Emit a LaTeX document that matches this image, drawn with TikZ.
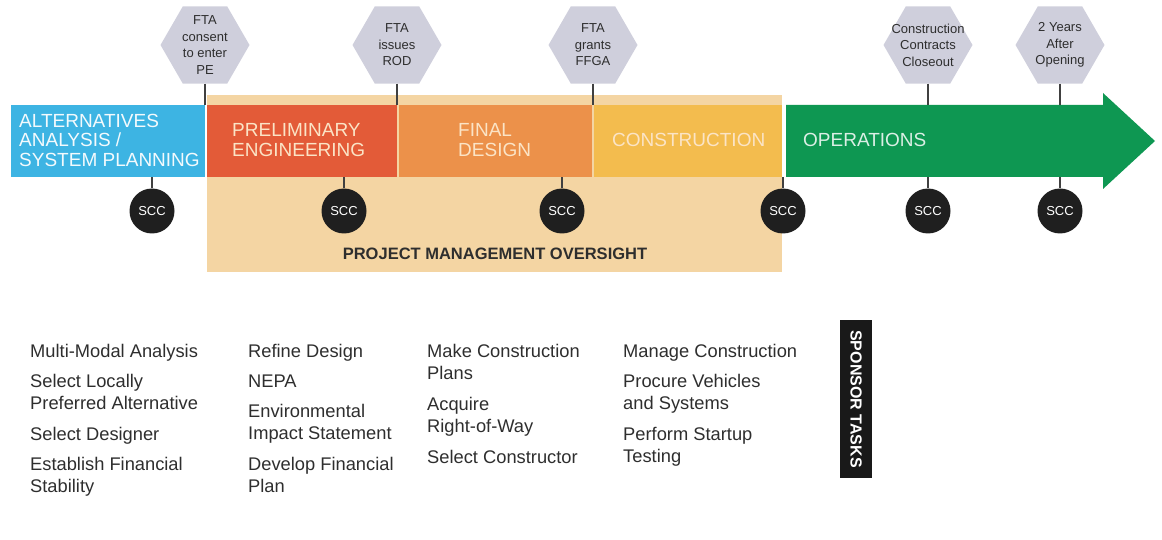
\documentclass[tikz,border=0pt]{standalone}
\usepackage{fontspec}
\setmainfont{Liberation Sans}
\usetikzlibrary{shapes.geometric}
\definecolor{cblue}{HTML}{3DB4E3}
\definecolor{cred}{HTML}{E35B38}
\definecolor{corange}{HTML}{EC914A}
\definecolor{cyellow}{HTML}{F3BC4E}
\definecolor{ctan}{HTML}{F4D5A3}
\definecolor{cgreen}{HTML}{0E9752}
\definecolor{chex}{HTML}{CFCFDC}
\definecolor{ctxt}{HTML}{2E2E2E}
\definecolor{cream}{HTML}{FBE4C6}
\tikzset{
  phase/.style={rectangle, inner sep=0pt, draw=none},
  phasetext/.style={inner sep=0pt, align=left, text=cream, font=\fontsize{19}{19.5}\selectfont},
  hexa/.style={regular polygon, regular polygon sides=6, minimum size=89pt, inner sep=0pt, fill=chex},
  hextext/.style={inner sep=0pt, text=ctxt, align=center, font=\fontsize{13}{16.5}\selectfont},
  scc/.style={circle, fill=black!88, minimum size=45pt, inner sep=0pt, text=white, font=\fontsize{13}{15}\selectfont},
  stem/.style={draw=black!75, line width=1.8pt},
  task/.style={inner sep=0pt, anchor=base west, align=left, text=ctxt, font=\fontsize{18.3}{22}\selectfont},
}
\begin{document}
\begin{tikzpicture}[x=1pt,y=-1pt]
\useasboundingbox (0,0) rectangle (1162,540);
% project management oversight band
\node[phase, fill=ctan, minimum width=575pt, minimum height=177pt, anchor=north west] (pmo) at (207,95) {};
\node[inner sep=0pt, text=ctxt, font=\bfseries\fontsize{16.5}{18}\selectfont] (pmot) at (495,254) {PROJECT MANAGEMENT OVERSIGHT};
% phases
\node[phase, fill=cblue, minimum width=194pt, minimum height=72pt, anchor=north west] (aa) at (11,105) {};
\node[phase, fill=cred, minimum width=190pt, minimum height=72pt, anchor=north west] (pe) at (207,105) {};
\node[phase, fill=corange, minimum width=193pt, minimum height=72pt, anchor=north west] (fd) at (399,105) {};
\node[phase, fill=cyellow, minimum width=188pt, minimum height=72pt, anchor=north west] (co) at (594,105) {};
\fill[cgreen] (786,105) -- (1103,105) -- (1103,93) -- (1155,141) -- (1103,189) -- (1103,177) -- (786,177) -- cycle;
\node[phase, minimum width=317pt, minimum height=72pt, anchor=north west] (op) at (786,105) {};
% phase labels
\node[phasetext, text=white!94!cblue, anchor=west] (aat) at (19,140) {ALTERNATIVES\\ANALYSIS /\\SYSTEM PLANNING};
\node[phasetext, anchor=west] (pet) at (232,140) {PRELIMINARY\\ENGINEERING};
\node[phasetext, anchor=west] (fdt) at (458,140) {FINAL\\DESIGN};
\node[phasetext, anchor=west] (cot) at (612,140) {CONSTRUCTION};
\node[phasetext, text=white!85!cgreen, anchor=west] (opt) at (803,140) {OPERATIONS};
% milestones
\node[hexa] (h1) at (205,45) {};
\node[hexa] (h2) at (397,45) {};
\node[hexa] (h3) at (593,45) {};
\node[hexa] (h4) at (928,45) {};
\node[hexa] (h5) at (1060,45) {};
\node[hextext] (h1t) at (h1) {FTA\\consent\\to enter\\PE};
\node[hextext] (h2t) at (h2) {FTA\\issues\\ROD};
\node[hextext] (h3t) at (h3) {FTA\\grants\\FFGA};
\node[hextext] (h4t) at (h4) {Construction\\Contracts\\Closeout};
\node[hextext] (h5t) at (h5) {2 Years\\After\\Opening};
\draw[stem] (h1.south) -- (h1.south |- pe.north);
\draw[stem] (h2.south) -- (h2.south |- pe.north);
\draw[stem] (h3.south) -- (h3.south |- fd.north);
\draw[stem] (h4.south) -- (h4.south |- op.north);
\draw[stem] (h5.south) -- (h5.south |- op.north);
% SCC reviews
\node[scc] (s1) at (152,211) {SCC};
\node[scc] (s2) at (344,211) {SCC};
\node[scc] (s3) at (562,211) {SCC};
\node[scc] (s4) at (783,211) {SCC};
\node[scc] (s5) at (928,211) {SCC};
\node[scc] (s6) at (1060,211) {SCC};
\draw[stem] (s1.north) -- (s1.north |- aa.south);
\draw[stem] (s2.north) -- (s2.north |- pe.south);
\draw[stem] (s3.north) -- (s3.north |- fd.south);
\draw[stem] (s4.north) -- (s4.north |- co.south);
\draw[stem] (s5.north) -- (s5.north |- op.south);
\draw[stem] (s6.north) -- (s6.north |- op.south);
% sponsor tasks (anchor = baseline of last line)
\node[task] (t11) at (30,357) {Multi-Modal Analysis};
\node[task] (t12) at (30,409) {Select Locally\\Preferred Alternative};
\node[task] (t13) at (30,440) {Select Designer};
\node[task] (t14) at (30,492) {Establish Financial\\Stability};
\node[task] (t21) at (248,357) {Refine Design};
\node[task] (t22) at (248,387) {NEPA};
\node[task] (t23) at (248,439) {Environmental\\Impact Statement};
\node[task] (t24) at (248,492) {Develop Financial\\Plan};
\node[task] (t31) at (427,379) {Make Construction\\Plans};
\node[task] (t32) at (427,432) {Acquire\\Right-of-Way};
\node[task] (t33) at (427,463) {Select Constructor};
\node[task] (t41) at (623,357) {Manage Construction};
\node[task] (t42) at (623,409) {Procure Vehicles\\and Systems};
\node[task] (t43) at (623,462) {Perform Startup\\Testing};
\node[rectangle, rotate=-90, fill=black!90, text=white, inner sep=0pt, minimum width=158pt, minimum height=32pt, font=\bfseries\fontsize{16}{18}\selectfont] (sp) at (856,399) {SPONSOR TASKS};
\end{tikzpicture}
\end{document}
